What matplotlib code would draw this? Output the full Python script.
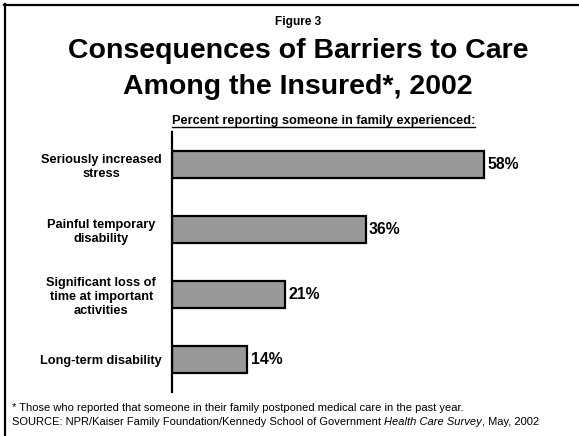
import matplotlib
matplotlib.use('Agg')
import matplotlib.pyplot as plt
from matplotlib.lines import Line2D

plt.rcParams['font.family'] = ['Liberation Sans', 'DejaVu Sans']

# chart data
categories = ['Seriously increased\nstress',
              'Painful temporary\ndisability',
              'Significant loss of\ntime at important\nactivities',
              'Long-term disability']
values = [58, 36, 21, 14]
value_labels = ['58%', '36%', '21%', '14%']

W, H = 579, 436
fig = plt.figure(figsize=(W / 100, H / 100), dpi=100)

# frame remnants (top and left edges of the slide border)
fig.add_artist(Line2D([4 / W, 1], [1 - 5 / H, 1 - 5 / H], color='black', lw=1.6))
fig.add_artist(Line2D([4.5 / W, 4.5 / W], [0, 1 - 4.5 / H], color='black', lw=1.6))

# titles
fig.text(298 / W, 1 - 22 / H, 'Figure 3', ha='center', va='center',
         fontsize=8.6, fontweight='bold')
fig.text(298 / W, 1 - 51 / H, 'Consequences of Barriers to Care', ha='center',
         va='center', fontsize=20.5, fontweight='bold')
fig.text(298 / W, 1 - 87 / H, 'Among the Insured*, 2002', ha='center',
         va='center', fontsize=20.5, fontweight='bold')

# axes: x from 172px, 5.38px per percent; y from 132px to 392px
ax_left, ax_top, ax_bottom = 172, 132, 392
xmax = 70
ax = fig.add_axes([ax_left / W, 1 - ax_bottom / H,
                   5.38 * xmax / W, (ax_bottom - ax_top) / H])
ypos = list(range(len(values)))
ax.barh(ypos, values, height=0.41, color='#999999', edgecolor='black',
        linewidth=1.6, left=0)
ax.set_xlim(0, xmax)
ax.set_ylim(len(values) - 0.5, -0.5)
for s in ['top', 'right', 'bottom']:
    ax.spines[s].set_visible(False)
ax.spines['left'].set_linewidth(1.6)
ax.set_xticks([])
ax.set_yticks(ypos)
ax.set_yticklabels(categories, fontsize=9.2, fontweight='bold', ha='center',
                   multialignment='center', linespacing=1.25)
ax.tick_params(axis='y', length=0, pad=0)
for lbl in ax.get_yticklabels():
    lbl.set_x(-0.188)
for y, v, t in zip(ypos, values, value_labels):
    ax.text(v + 0.6, y, t, ha='left', va='center', fontsize=11.3,
            fontweight='bold')

# underlined subtitle above the plot
sub = fig.text(ax_left / W, 1 - 121 / H,
               'Percent reporting someone in family experienced:',
               ha='left', va='center', fontsize=9.15, fontweight='bold')
fig.canvas.draw()
inv = fig.transFigure.inverted()
bb = sub.get_window_extent().transformed(inv)
fig.add_artist(Line2D([bb.x0, bb.x1], [bb.y0 + 0.5 / H, bb.y0 + 0.5 / H],
                      color='black', lw=1.0))

# footnotes
fs = 8.0
fig.text(12 / W, 1 - 408 / H,
         '* Those who reported that someone in their family postponed medical care in the past year.',
         ha='left', va='center', fontsize=fs)
src_parts = [('SOURCE: NPR/Kaiser Family Foundation/Kennedy School of Government ', 'normal'),
             ('Health Care Survey', 'italic'),
             (', May, 2002', 'normal')]
x = 12 / W
for txt, style in src_parts:
    t = fig.text(x, 1 - 422 / H, txt, ha='left', va='center', fontsize=fs,
                 fontstyle=style)
    fig.canvas.draw()
    x = t.get_window_extent().transformed(inv).x1

fig.savefig('out.png', dpi=100)
